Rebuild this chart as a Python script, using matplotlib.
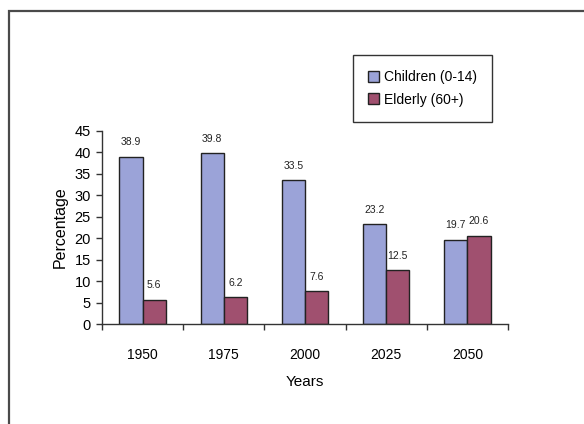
import matplotlib.pyplot as plt
import numpy as np
from matplotlib.patches import Rectangle

plt.rcParams['font.family'] = ['Liberation Sans', 'DejaVu Sans']

years = ['1950', '1975', '2000', '2025', '2050']
children = [38.9, 39.8, 33.5, 23.2, 19.7]
elderly = [5.6, 6.2, 7.6, 12.5, 20.6]
series_names = ['Children (0-14)', 'Elderly (60+)']

c_child = '#9ba3d8'
c_old = '#a0506f'

fig = plt.figure(figsize=(5.84, 4.24), dpi=100)
ax = fig.add_axes([102/584, 1-324/424, (508-102)/584, (324-131)/424])

# outer frame round the whole chart area
fig.patches.append(Rectangle((9/584, -0.1), 1.2, 1-11/424+0.1, transform=fig.transFigure,
                             fill=False, edgecolor='#4a4a4a', linewidth=1.6))

x = np.arange(len(years))
w = 0.285
b1 = ax.bar(x - w/2, children, w, color=c_child, edgecolor='#222222', linewidth=1.0, label=series_names[0])
b2 = ax.bar(x + w/2, elderly, w, color=c_old, edgecolor='#222222', linewidth=1.0, label=series_names[1])

for bars, vals in [(b1, children), (b2, elderly)]:
    for r, v in zip(bars, vals):
        ax.annotate(f'{v:.1f}', (r.get_x() + r.get_width()/2, v), xytext=(0, 7),
                    textcoords='offset points', ha='center', va='bottom', fontsize=7.5, color='#222222')

ax.set_xlim(-0.5, len(years) - 0.5)
ax.set_ylim(0, 45)
ax.set_yticks(np.arange(0, 46, 5))
ax.set_xticks(np.arange(-0.5, len(years), 1.0))
ax.set_xticklabels([])
ax.set_xticks(x, minor=True)
ax.set_xticklabels(years, minor=True)
ax.tick_params(axis='x', which='minor', length=0, pad=17, labelsize=10)
ax.tick_params(axis='x', which='major', length=4, width=1, color='#333333')
ax.tick_params(axis='y', length=4, width=1, color='#333333', labelsize=10.5, pad=4)

for s in ['top', 'right']:
    ax.spines[s].set_visible(False)
for s in ['left', 'bottom']:
    ax.spines[s].set_color('#333333')
    ax.spines[s].set_linewidth(1.0)

ax.set_xlabel('Years', fontsize=11, labelpad=10)
ax.set_ylabel('Percentage', fontsize=11.5, labelpad=5)

fig.legend(handles=[b1, b2], loc='upper left', bbox_to_anchor=(353/584, 1-55/424),
           borderaxespad=0, fontsize=10, frameon=True, fancybox=False, edgecolor='black',
           handlelength=0.8, handleheight=0.8, handletextpad=0.3, borderpad=1.1, labelspacing=0.6)

fig.savefig('out.png', dpi=100)
